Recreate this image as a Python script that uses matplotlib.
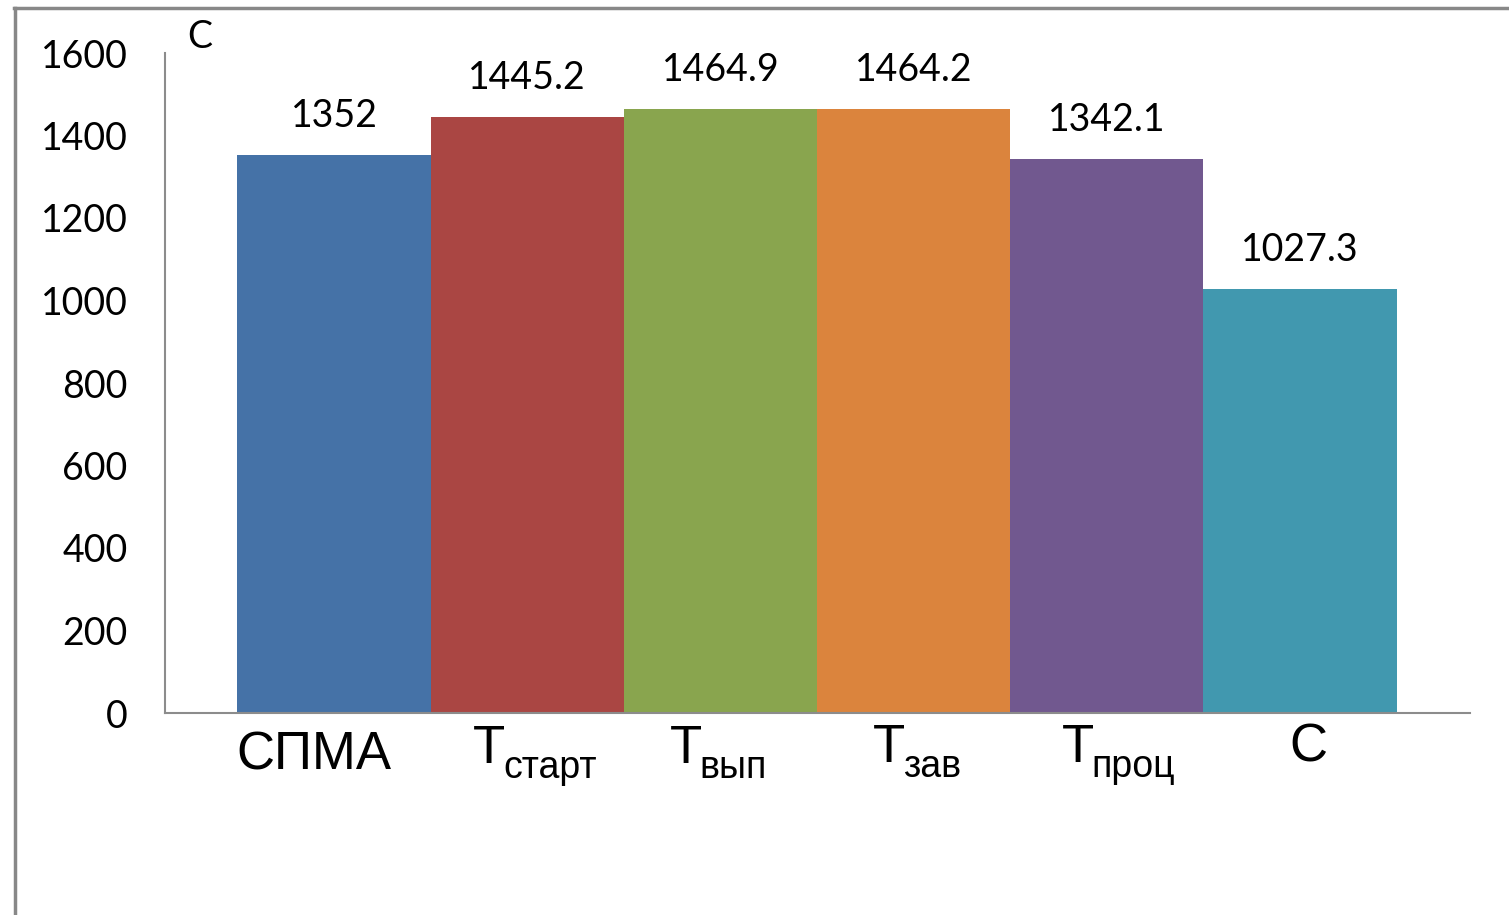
import matplotlib
matplotlib.use("Agg")
import matplotlib.pyplot as plt
from matplotlib.lines import Line2D
from matplotlib.transforms import blended_transform_factory

# Data
main_labels = ["СПМА", "Т", "Т", "Т", "Т", "С"]
sub_labels = ["", "старт", "вып", "зав", "проц", ""]
values = [1352, 1445.2, 1464.9, 1464.2, 1342.1, 1027.3]
value_labels = ["1352", "1445.2", "1464.9", "1464.2", "1342.1", "1027.3"]
yticks = [0, 200, 400, 600, 800, 1000, 1200, 1400, 1600]
colors = ["#4572A7", "#AA4643", "#89A54E", "#DB843D", "#71588F", "#4198AF"]

W, H = 1509, 915
fig = plt.figure(figsize=(W / 100, H / 100), dpi=100)
ax = fig.add_axes([165 / W, 1 - 713 / H, (1470 - 165) / W, (713 - 53) / H])

x = list(range(len(values)))
ax.bar(x, values, width=1.0, color=colors, linewidth=0)
ax.set_xlim(-0.875, 5.88)
ax.set_ylim(0, 1600)

for s in ("top", "right"):
    ax.spines[s].set_visible(False)
for s in ("left", "bottom"):
    ax.spines[s].set_color("#8c8c8c")
    ax.spines[s].set_linewidth(1.5)

ax.set_yticks(yticks)
ax.set_yticklabels([str(t) for t in yticks], fontfamily="Lato", fontsize=27)
ax.tick_params(axis="y", length=0, pad=27)
ax.set_xticks([])

# value labels above bars
for xi, v, lab in zip(x, values, value_labels):
    ax.annotate(lab, (xi, v), xytext=(0, 28), textcoords="offset pixels",
                ha="center", va="baseline", fontfamily="Lato", fontsize=27)

# category labels below the axis: main letter plus optional subscript
trans = blended_transform_factory(ax.transData, ax.transAxes)
main_dx = [-20, -54, -51, -41, -45, 8]
main_dy = [-57, -50, -50, -49, -49, -49]
for xi, m, sub, dx, dy in zip(x, main_labels, sub_labels, main_dx, main_dy):
    if sub:
        ax.annotate(m, (xi, 0), xycoords=trans, xytext=(dx, dy),
                    textcoords="offset pixels", ha="left", va="baseline",
                    fontfamily="Liberation Sans", fontsize=38)
        ax.annotate(sub, (xi, 0), xycoords=trans, xytext=(dx + 30, dy - 15),
                    textcoords="offset pixels", ha="left", va="baseline",
                    fontfamily="Liberation Sans", fontsize=27)
    else:
        ax.annotate(m, (xi, 0), xycoords=trans, xytext=(dx, dy),
                    textcoords="offset pixels", ha="center", va="baseline",
                    fontfamily="Liberation Sans", fontsize=38)

# axis unit label
fig.text(199.5 / W, 1 - 36.5 / H, "C", ha="center", va="center",
         fontfamily="Lato", fontsize=27)

# outer frame (top and left edges)
fig.add_artist(Line2D([14 / W, 1.0], [1 - 7.5 / H, 1 - 7.5 / H],
                      transform=fig.transFigure, color="#888888", lw=2.5))
fig.add_artist(Line2D([15 / W, 15 / W], [0.0, 1 - 7.5 / H],
                      transform=fig.transFigure, color="#888888", lw=2.5))

fig.savefig("out.png", dpi=100)
